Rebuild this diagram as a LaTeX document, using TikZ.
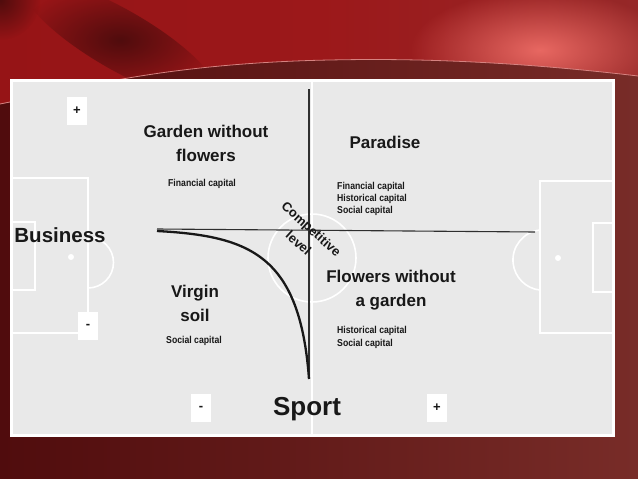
\documentclass[tikz,border=0pt]{standalone}
\usepackage{fontspec}
\setmainfont{Liberation Sans}
\newfontfamily\narrowfont[FakeStretch=0.87]{Liberation Sans}
\usetikzlibrary{arrows.meta,fadings}
\definecolor{winedark}{RGB}{80,12,13}
\definecolor{winebrown}{RGB}{120,44,40}
\definecolor{redleft}{RGB}{150,20,22}
\definecolor{redmid}{RGB}{156,24,26}
\definecolor{redright}{RGB}{150,40,40}
\definecolor{pinkglow}{RGB}{232,104,98}
\definecolor{arcline}{RGB}{214,130,128}
\definecolor{field}{RGB}{233,233,233}
\definecolor{ink}{RGB}{24,24,24}
\tikzfading[name=glowfade,inner color=transparent!0,outer color=transparent!100]
\tikzset{
  bigtext/.style={text=ink,font=\fontsize{17}{24}\selectfont\bfseries,align=center},
  smalltext/.style={text=ink,font=\narrowfont\fontsize{10}{12.5}\selectfont\bfseries,align=left,inner sep=0pt},
  signbox/.style={fill=white,minimum width=20pt,minimum height=28pt,inner sep=0pt,text=ink,font=\fontsize{13}{13}\selectfont\bfseries},
  pitch/.style={draw=white,line width=1.6pt},
  axis/.style={draw=ink!90,line width=1.1pt}
}
\begin{document}
\begin{tikzpicture}[x=1pt,y=-1pt]
  \useasboundingbox (0,0) rectangle (638,479);
  % background
  \shade[left color=winedark,right color=winebrown] (0,0) rectangle (638,479);
  \begin{scope}
    \clip (0,0) -- (638,0) -- (638,76) .. controls (520,62) and (420,58) .. (330,60)
      .. controls (220,62) and (130,75) .. (60,92) -- (0,104) -- cycle;
    \shade[left color=redleft,right color=redright,middle color=redmid] (0,0) rectangle (638,110);
    \fill[pinkglow,path fading=glowfade] (540,50) ellipse (130 and 60);
    \fill[winedark,path fading=glowfade] (120,40) ellipse[x radius=110,y radius=30,rotate=-30];
    \fill[winedark,path fading=glowfade] (0,0) circle (40);
  \end{scope}
  \draw[arcline,line width=0.8pt] (638,76) .. controls (520,62) and (420,58) .. (330,60)
    .. controls (220,62) and (130,75) .. (60,92) -- (0,104);

  % panel
  \fill[white] (10,79) rectangle (615,437);
  \fill[field] (13,82) rectangle (612,434);

  % pitch lines
  \draw[pitch] (312,82) -- (312,434);
  \draw[pitch] (312,258) circle (44);
  \draw[pitch] (13,178) -- (88,178) -- (88,333) -- (13,333);
  \draw[pitch] (13,222) -- (35,222) -- (35,290) -- (13,290);
  \draw[pitch] (88,237) arc[start angle=-90,end angle=90,radius=25.5];
  \fill[white] (71,257) circle (3);
  \draw[pitch] (612,181) -- (540,181) -- (540,333) -- (612,333);
  \draw[pitch] (612,223) -- (593,223) -- (593,292) -- (612,292);
  \draw[pitch] (540,230) arc[start angle=264,end angle=96,radius=30.2];
  \fill[white] (558,258) circle (3);

  % axes and curve
  \coordinate (hleft) at (157,229);
  \coordinate (hright) at (535,232);
  \coordinate (vtop) at (309,89);
  \coordinate (vbottom) at (309,379);
  \coordinate (cstart) at (157,231);
  \draw[axis] (hleft) -- (hright);
  \draw[axis] (vtop) -- (vbottom);
  \draw[ink,line width=2.3pt] (cstart) .. controls (250,236) and (300,255) .. (vbottom);

  % signs
  \node[signbox] (plustop) at (77,111) {+};
  \node[signbox] (minusleft) at (88,326) {-};
  \node[signbox] (minusbottom) at (201,408) {-};
  \node[signbox] (plusbottom) at (437,408) {+};

  % axis names
  \node[text=ink,font=\fontsize{20.5}{20}\selectfont\bfseries] (business) at (60,235) {Business};
  \node[text=ink,font=\fontsize{26}{26}\selectfont\bfseries] (sport) at (307,409) {Sport};
  \node[text=ink,font=\fontsize{13}{19}\selectfont\bfseries,align=center,rotate=-42,inner sep=0pt]
    (level) at (305,236) {Competitive\\level};

  % quadrants
  \node[bigtext] (garden) at (206,143) {Garden without\\flowers};
  \node[bigtext] (paradise) at (385,142) {Paradise};
  \node[bigtext] (virgin) at (195,303) {Virgin\\soil};
  \node[bigtext] (flowers) at (391,290) {Flowers without\\a garden};

  \node[smalltext] (gardencap) at (202,184) {Financial capital};
  \node[smalltext,anchor=west,font=\narrowfont\fontsize{10}{12}\selectfont\bfseries]
    (paradisecap) at (337,199) {Financial capital\\Historical capital\\Social capital};
  \node[smalltext] (virgincap) at (194,341) {Social capital};
  \node[smalltext,anchor=west] (flowerscap) at (337,337.5) {Historical capital\\Social capital};
\end{tikzpicture}
\end{document}
